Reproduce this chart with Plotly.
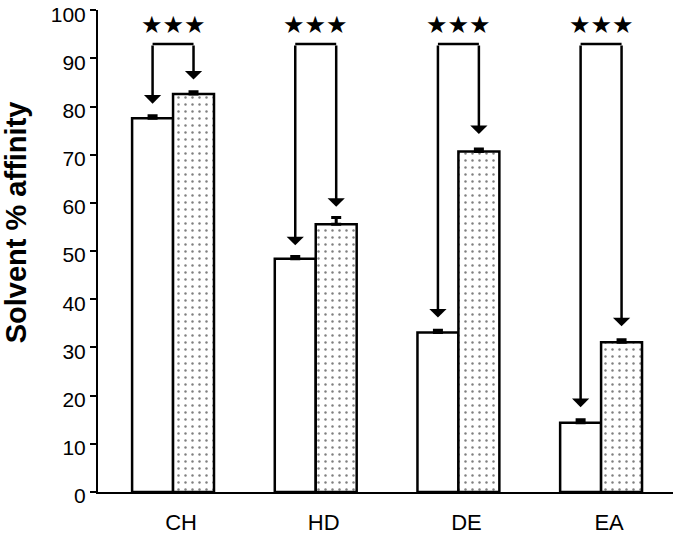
import plotly.graph_objects as go

categories = ["CH", "HD", "DE", "EA"]
white_vals = [77.6, 48.4, 33.1, 14.4]
white_err = [0.5, 0.5, 0.5, 0.6]
dotted_vals = [82.6, 55.6, 70.7, 31.1]
dotted_err = [0.5, 1.4, 0.5, 0.5]
arrow_tip_white = [80.6, 51.2, 36.2, 17.6]
arrow_tip_dotted = [85.6, 59.2, 74.3, 34.4]
bracket_top = 93
stars_y = 97
stars_text = "★★★"
y_ticks = list(range(0, 101, 10))

W = 0.287
pos = list(range(len(categories)))

fig = go.Figure()
fig.add_trace(go.Bar(
    x=pos, y=white_vals, width=W, offset=-W,
    marker=dict(color="white", line=dict(color="black", width=2.5)),
    error_y=dict(type="data", array=white_err, arrayminus=[0]*4, symmetric=False,
                 color="black", thickness=3, width=5),
    showlegend=False,
))
fig.add_trace(go.Bar(
    x=pos, y=dotted_vals, width=W, offset=0,
    marker=dict(color="white", line=dict(color="black", width=2.5),
                pattern=dict(shape=".", size=7, solidity=0.1, fgcolor="black",
                             bgcolor="white", fillmode="overlay")),
    error_y=dict(type="data", array=dotted_err, arrayminus=[0]*4, symmetric=False,
                 color="black", thickness=3, width=5),
    showlegend=False,
))

annotations = []
shapes = []
for i, p in enumerate(pos):
    xl = p - W / 2
    xr = p + W / 2
    shapes.append(dict(type="line", xref="x", yref="y", x0=xl, x1=xr,
                       y0=bracket_top, y1=bracket_top,
                       line=dict(color="black", width=2.5)))
    for xx, tip in ((xl, arrow_tip_white[i]), (xr, arrow_tip_dotted[i])):
        annotations.append(dict(x=xx, y=tip, ax=xx, ay=bracket_top,
                                xref="x", yref="y", axref="x", ayref="y",
                                text="", showarrow=True, arrowhead=1,
                                arrowsize=1.15, arrowwidth=2.5, arrowcolor="black"))
    annotations.append(dict(x=p, y=stars_y, xref="x", yref="y", text=stars_text,
                            showarrow=False, font=dict(size=24, color="black",
                                                       family="DejaVu Sans")))

annotations.append(dict(x=0, y=0.5596, xref="paper", yref="paper", xshift=-82,
                        xanchor="center", yanchor="middle",
                        text="<b>Solvent % affinity</b>", textangle=-90,
                        showarrow=False,
                        font=dict(size=29, color="black", family="Liberation Sans")))

fig.update_layout(
    width=675, height=534,
    margin=dict(l=98, r=2, t=9.5, b=42),
    plot_bgcolor="white", paper_bgcolor="white",
    barmode="overlay",
    annotations=annotations, shapes=shapes,
    font=dict(family="Liberation Sans", color="black"),
)
fig.update_xaxes(range=[-0.526, 3.504], tickvals=pos, ticktext=categories,
                 showline=True, linecolor="black", linewidth=2, ticks="",
                 showgrid=False, zeroline=False, ticklabelshift=8,
                 ticklabelstandoff=10, automargin=False,
                 tickfont=dict(size=22, color="black"))
fig.update_yaxes(range=[0, 100.05], tickvals=y_ticks, showline=True, linecolor="black",
                 linewidth=2, ticks="outside", ticklen=6, tickwidth=2,
                 tickcolor="black", showgrid=False, zeroline=False,
                 automargin=False, ticklabeloverflow="allow", ticklabelshift=4,
                 tickfont=dict(size=21, color="black"))

fig.write_html("out.html", config={"displayModeBar": False},
               post_script="document.body.style.margin='0';document.body.style.padding='0';")
